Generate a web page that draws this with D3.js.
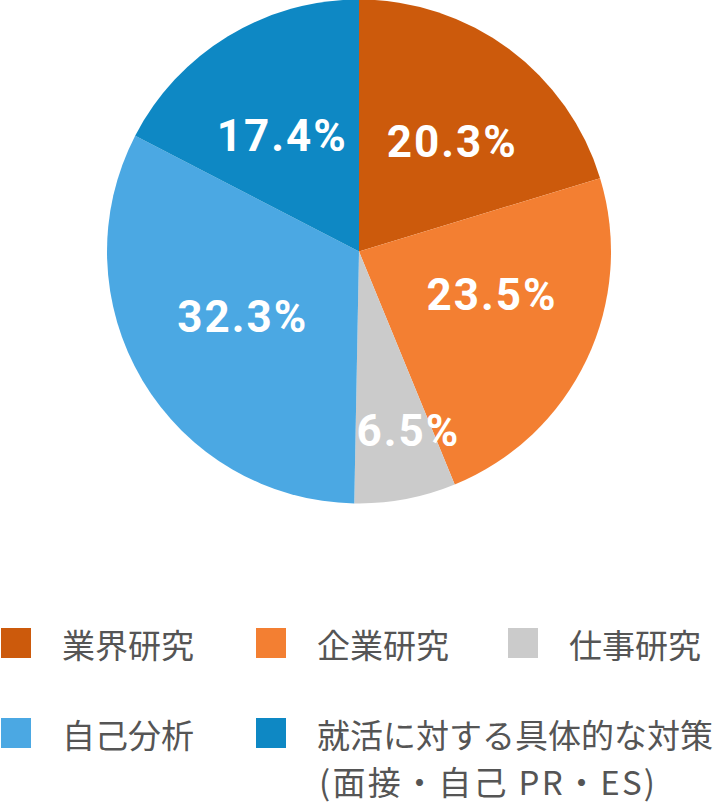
<!DOCTYPE html>
<html>
<head>
<meta charset="utf-8">
<script src="https://cdn.jsdelivr.net/npm/d3@7"></script>
<style>
  html, body { margin: 0; padding: 0; background: #ffffff; }
  svg { display: block; }
</style>
</head>
<body>
<svg id="chart" width="718" height="809"></svg>
<script>
const categories = ["業界研究", "企業研究", "仕事研究", "自己分析", "就活に対する具体的な対策"];
const legendSubLabels = ["", "", "", "", "(面接・自己 PR・ES)"];
const values = [20.3, 23.5, 6.5, 32.3, 17.4];
const colors = ["#cc5a0c", "#f37f32", "#cbcbcb", "#4ba8e3", "#0e88c4"];
// label nudges (layout only), relative to arc centroid
const labelNudge = [[9, 3], [5.5, -16.5], [14, -3], [3, -6.5], [-5, 4]];

const svg = d3.select("#chart");
const cx = 359, cy = 251.5, R = 252;

const pie = d3.pie().sort(null).value(d => d.v);
const data = categories.map((c, i) => ({ c, v: values[i], col: colors[i], i }));
const arcs = pie(data);

const arc = d3.arc().innerRadius(0).outerRadius(R);
const g = svg.append("g").attr("transform", `translate(${cx},${cy})`);

g.selectAll("path.slice").data(arcs).enter().append("path")
  .attr("class", "slice")
  .attr("d", arc)
  .attr("fill", d => d.data.col);

const labelArc = d3.arc().innerRadius(140).outerRadius(140);
const smallLabelArc = d3.arc().innerRadius(186).outerRadius(186);

g.selectAll("text.pct").data(arcs).enter().append("text")
  .attr("class", "pct")
  .attr("transform", d => {
    const p = (d.data.v < 10 ? smallLabelArc : labelArc).centroid(d);
    const n = labelNudge[d.data.i];
    return `translate(${p[0] + n[0] + 1},${p[1] + n[1]})`;
  })
  .attr("text-anchor", "middle")
  .attr("dominant-baseline", "central")
  .attr("font-family", "Roboto, 'Noto Sans', sans-serif")
  .attr("font-weight", 700)
  .attr("font-size", 44)
  .attr("letter-spacing", 2)
  .attr("fill", "#ffffff")
  .text(d => d.data.v.toFixed(1) + "%");

// Legend
const colX = [1, 256, 508];
const rowY = [628, 718];
const legend = svg.append("g");
data.forEach((d, i) => {
  const col = i < 3 ? i : i - 3;
  const row = i < 3 ? 0 : 1;
  const x = colX[col], y = rowY[row];
  legend.append("rect")
    .attr("x", x).attr("y", y).attr("width", 30).attr("height", 30)
    .attr("fill", d.col);
  legend.append("text")
    .attr("x", x + 61).attr("y", y + 16)
    .attr("dominant-baseline", "central")
    .attr("font-family", "'Noto Sans CJK JP', 'Noto Sans', sans-serif")
    .attr("font-size", 33)
    .attr("font-weight", 400)
    .attr("fill", "#555555")
    .text(d.c);
  if (legendSubLabels[i]) {
    legend.append("text")
      .attr("x", x + 63).attr("y", y + 63)
      .attr("dominant-baseline", "central")
      .attr("font-family", "'Noto Sans CJK JP', 'Noto Sans', sans-serif")
      .attr("font-size", 33)
      .attr("font-weight", 400)
      .attr("fill", "#555555")
      .attr("textLength", 336)
      .attr("lengthAdjust", "spacing")
      .text(legendSubLabels[i]);
  }
});
</script>
</body>
</html>
